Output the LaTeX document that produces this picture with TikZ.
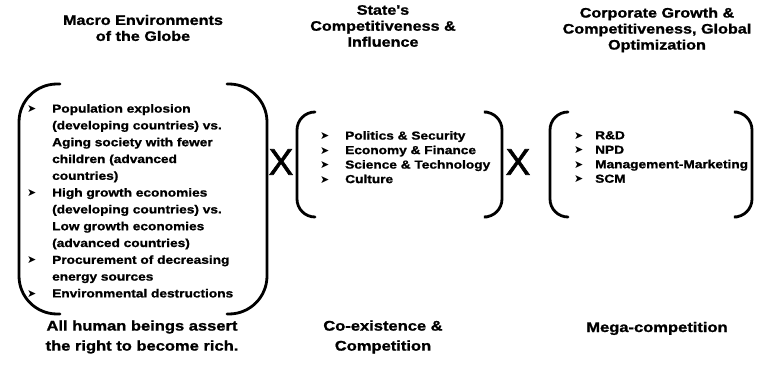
\documentclass[tikz,border=0pt]{standalone}
\usepackage{fontspec}
\setmainfont{Liberation Sans}
\newfontfamily\hv[FakeStretch=1.18,FakeBold=1.2]{Liberation Sans}
\newfontfamily\xf[FakeBold=1.6]{Liberation Sans}
\newfontfamily\dv{DejaVu Sans}
\newcommand\bul[1]{\makebox[#1][l]{{\dv\fontsize{11}{11}\selectfont ➤}}}
\newcommand\ind[1]{\hspace*{#1}}
\tikzset{
  title/.style={align=center, inner sep=0pt, font=\hv\bfseries\fontsize{13.7}{16}\selectfont},
  listbox/.style={align=left, inner sep=0pt, anchor=north west},
  footer/.style={align=center, inner sep=0pt, font=\hv\bfseries\fontsize{14}{20}\selectfont},
  times/.style={inner sep=0pt, font=\xf\fontsize{37}{37}\selectfont},
  paren/.style={line width=2.8pt, line cap=round},
}
\begin{document}
\begin{tikzpicture}[x=1pt,y=-1pt]
\useasboundingbox[fill=white] (0,0) rectangle (760,382);

% column headings
\node[title] (h1) at (143,28) {Macro Environments\\of the Globe};
\node[title] (h2) at (383,26) {State's\\Competitiveness \&\\Influence};
\node[title] (h3) at (657,30) {Corporate Growth \&\\Competitiveness, Global\\Optimization};

% first bracketed list
\draw[paren, rounded corners=38pt] (60,84) -- (19,84) -- (19,314) -- (60,314);
\draw[paren, rounded corners=38pt] (227,84) -- (267,84) -- (267,314) -- (227,314);
\node[listbox, font=\hv\bfseries\fontsize{11.6}{16.8}\selectfont] (l1) at (27,104)
  {\bul{25pt}Population explosion\\
   \ind{25pt}(developing countries) vs.\\
   \ind{25pt}Aging society with fewer\\
   \ind{25pt}children (advanced\\
   \ind{25pt}countries)\\
   \bul{25pt}High growth economies\\
   \ind{25pt}(developing countries) vs.\\
   \ind{25pt}Low growth economies\\
   \ind{25pt}(advanced countries)\\
   \bul{25pt}Procurement of decreasing\\
   \ind{25pt}energy sources\\
   \bul{25pt}Environmental destructions};

\node[times] (x1) at (281,162) {X};

% second bracketed list
\draw[paren, rounded corners=18pt] (315,112) -- (297,112) -- (297,217) -- (315,217);
\draw[paren, rounded corners=18pt] (487,112) -- (502,112) -- (502,217) -- (487,217);
\node[listbox, font=\hv\bfseries\fontsize{11.6}{14.5}\selectfont] (l2) at (320,131)
  {\bul{25pt}Politics \& Security\\
   \bul{25pt}Economy \& Finance\\
   \bul{25pt}Science \& Technology\\
   \bul{25pt}Culture};

\node[times] (x2) at (518,162) {X};

% third bracketed list
\draw[paren, rounded corners=18pt] (568,112) -- (550,112) -- (550,217) -- (568,217);
\draw[paren, rounded corners=18pt] (737,112) -- (752,112) -- (752,217) -- (737,217);
\node[listbox, font=\hv\bfseries\fontsize{11.6}{14.5}\selectfont] (l3) at (574,131)
  {\bul{21pt}R\&D\\
   \bul{21pt}NPD\\
   \bul{21pt}Management-Marketing\\
   \bul{21pt}SCM};

% captions below
\node[footer] (f1) at (142,337) {All human beings assert\\the right to become rich.};
\node[footer] (f2) at (383,337) {Co-existence \&\\Competition};
\node[footer, anchor=base] (f3) at (657,332) {Mega-competition};
\end{tikzpicture}
\end{document}
